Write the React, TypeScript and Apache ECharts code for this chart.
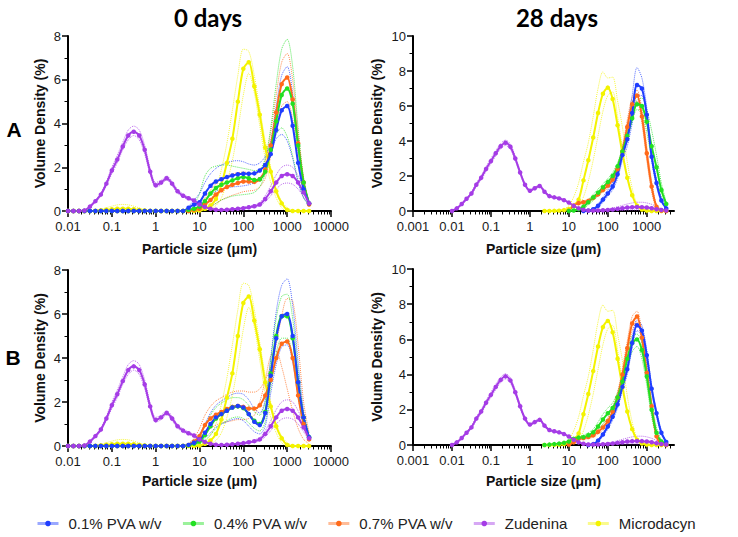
import React, { useEffect, useRef } from "react";
import * as echarts from "echarts";

// Particle size classes (µm) shared by all curves
const SIZES = [
  0.01, 0.0133, 0.0178, 0.0237, 0.0316, 0.0422, 0.0562, 0.075, 0.1, 0.133, 0.178, 0.237, 0.316, 0.422, 0.562, 0.75,
  1, 1.33, 1.78, 2.37, 3.16, 4.22, 5.62, 7.5, 10, 13.3, 17.8, 23.7, 31.6, 42.2, 56.2, 75,
  100, 133, 178, 237, 316, 422, 562, 750, 1000, 1334, 1778, 2371, 3162,
];

const TICKS_0 = [0.01, 0.1, 1, 10, 100, 1000, 10000];
const TICKS_28 = [0.001, 0.01, 0.1, 1, 10, 100, 1000];
const LEGEND_NAMES = ["0.1% PVA w/v", "0.4% PVA w/v", "0.7% PVA w/v", "Zudenina", "Microdacyn"];
const PANEL_TITLES = ["0 days", "28 days"];
const ROW_LABELS = ["A", "B"];

// ---------- 0 days, controls (same in A and B) ----------
const ZUD_0 = [0, 0, 0, 0.02, 0.2, 0.45, 0.75, 1.25, 1.85, 2.35, 2.95, 3.45, 3.62, 3.45, 2.8, 1.8, 1.18, 1.3, 1.5, 1.25, 0.9, 0.7, 0.58, 0.48, 0.3, 0.18, 0.1, 0.06, 0.05, 0.06, 0.08, 0.1, 0.13, 0.17, 0.22, 0.3, 0.55, 0.9, 1.3, 1.6, 1.68, 1.6, 1.3, 0.85, 0.35];
const ZUD_0_HI = [0, 0, 0, 0.03, 0.25, 0.5, 0.82, 1.35, 2.0, 2.55, 3.15, 3.7, 3.88, 3.7, 3.0, 1.95, 1.3, 1.4, 1.6, 1.35, 0.98, 0.78, 0.64, 0.52, 0.34, 0.2, 0.12, 0.08, 0.07, 0.08, 0.1, 0.13, 0.17, 0.22, 0.28, 0.38, 0.7, 1.15, 1.65, 2.0, 2.1, 2.0, 1.6, 1.05, 0.45];
const ZUD_0_LO = [0, 0, 0, 0.01, 0.15, 0.4, 0.68, 1.15, 1.7, 2.2, 2.8, 3.25, 3.45, 3.25, 2.6, 1.68, 1.08, 1.2, 1.42, 1.15, 0.82, 0.63, 0.52, 0.43, 0.26, 0.15, 0.08, 0.04, 0.03, 0.04, 0.06, 0.08, 0.1, 0.13, 0.17, 0.23, 0.42, 0.7, 1.0, 1.22, 1.28, 1.22, 1.0, 0.65, 0.25];
const MIC_0 = [0, 0, 0, 0, 0, 0, 0.03, 0.06, 0.08, 0.1, 0.1, 0.1, 0.08, 0.05, 0.02, 0, 0, 0, 0, 0, 0, 0, 0, 0, 0.02, 0.1, 0.25, 0.55, 1.2, 2.2, 3.3, 5.0, 6.5, 6.8, 5.7, 4.4, 2.9, 1.8, 0.9, 0.35, 0.05, 0, 0, 0, 0];
const MIC_0_HI = [0, 0, 0, 0, 0, 0.03, 0.08, 0.15, 0.22, 0.28, 0.3, 0.28, 0.22, 0.14, 0.06, 0.02, 0, 0, 0, 0, 0, 0, 0, 0, 0.05, 0.2, 0.5, 1.0, 1.9, 3.1, 4.6, 6.2, 7.4, 7.3, 6.2, 4.7, 3.2, 2.0, 1.0, 0.45, 0.15, 0.03, 0, 0, 0];
const MIC_0_LO = [0, 0, 0, 0, 0, 0, 0.01, 0.02, 0.03, 0.04, 0.04, 0.04, 0.03, 0.02, 0.01, 0, 0, 0, 0, 0, 0, 0, 0, 0, 0, 0.03, 0.1, 0.25, 0.6, 1.3, 2.3, 3.7, 5.3, 6.3, 5.4, 3.9, 2.4, 1.3, 0.6, 0.15, 0, 0, 0, 0, 0];

// ---------- A, 0 days ----------
const PVA01_A0 = [0, 0, 0, 0, 0, 0, 0, 0, 0, 0, 0, 0, 0, 0, 0, 0, 0, 0, 0, 0, 0, 0, 0.15, 0.3, 0.4, 0.8, 1.15, 1.35, 1.45, 1.55, 1.62, 1.68, 1.7, 1.7, 1.72, 1.85, 2.1, 2.6, 3.7, 4.6, 4.8, 3.9, 2.2, 1.0, 0.35];
const PVA01_A0_HI = [0.2, 0.5, 0.8, 1.3, 1.7, 1.95, 2.1, 2.2, 2.28, 2.3, 2.25, 2.15, 2.1, 2.2, 2.5, 3.2, 4.8, 6.2, 6.6, 5.4, 3.1, 1.3, 0.4];
const PVA01_A0_LO = [0.1, 0.2, 0.3, 0.5, 0.75, 0.9, 1.0, 1.05, 1.1, 1.12, 1.15, 1.2, 1.3, 1.5, 1.9, 2.6, 3.3, 3.5, 3.2, 2.4, 1.3, 0.6, 0.3];
const PVA04_A0 = [0, 0, 0, 0, 0, 0, 0, 0, 0, 0, 0, 0, 0, 0, 0, 0, 0, 0, 0, 0, 0, 0, 0.05, 0.1, 0.2, 0.45, 0.8, 1.05, 1.2, 1.3, 1.4, 1.5, 1.55, 1.5, 1.42, 1.45, 1.8, 2.8, 4.1, 5.3, 5.6, 4.9, 3.0, 1.3, 0.35];
const PVA04_A0_HI = [0.1, 0.3, 0.8, 1.6, 1.95, 2.05, 2.1, 2.1, 2.05, 2.0, 1.95, 1.9, 1.85, 1.9, 2.4, 3.8, 5.8, 7.4, 7.85, 6.6, 3.8, 1.5, 0.4];
const PVA04_A0_LO = [0, 0.02, 0.05, 0.1, 0.2, 0.35, 0.5, 0.6, 0.68, 0.72, 0.75, 0.78, 0.85, 1.1, 1.7, 2.7, 3.5, 3.8, 3.4, 2.5, 1.4, 0.6, 0.25];
const PVA07_A0 = [0, 0, 0, 0, 0, 0, 0, 0, 0, 0, 0, 0, 0, 0, 0, 0, 0, 0, 0, 0, 0, 0, 0, 0.05, 0.1, 0.3, 0.5, 0.75, 0.95, 1.1, 1.2, 1.28, 1.35, 1.35, 1.33, 1.45, 1.9, 3.0, 4.5, 5.8, 6.1, 5.1, 3.1, 1.3, 0.3];
const PVA07_A0_HI = [0.1, 0.25, 0.6, 0.95, 1.25, 1.45, 1.6, 1.7, 1.75, 1.78, 1.75, 1.7, 1.8, 2.3, 3.6, 5.3, 6.8, 7.2, 6.0, 3.6, 1.5, 0.35];
const PVA07_A0_LO = [0.02, 0.05, 0.1, 0.2, 0.35, 0.5, 0.62, 0.72, 0.8, 0.88, 0.92, 0.95, 1.1, 1.5, 2.5, 3.8, 4.8, 5.0, 4.2, 2.6, 1.1, 0.25];

// ---------- B, 0 days ----------
const PVA01_B0 = [0, 0, 0, 0, 0, 0, 0, 0, 0, 0, 0, 0, 0, 0, 0, 0, 0, 0, 0, 0, 0, 0, 0.05, 0.15, 0.3, 0.6, 1.0, 1.3, 1.45, 1.6, 1.75, 1.82, 1.75, 1.45, 1.1, 0.95, 1.5, 3.2, 4.9, 5.9, 6.0, 5.0, 2.9, 1.3, 0.4];
const PVA01_B0_HI = [0.1, 0.3, 0.55, 1.0, 1.5, 1.85, 2.05, 2.2, 2.35, 2.4, 2.35, 2.1, 1.7, 1.5, 2.1, 4.0, 6.1, 7.3, 7.6, 6.4, 3.8, 1.6, 0.45];
const PVA01_B0_LO = [0.02, 0.08, 0.15, 0.35, 0.6, 0.85, 1.0, 1.1, 1.2, 1.25, 1.15, 0.9, 0.65, 0.55, 0.9, 2.4, 3.7, 4.5, 4.6, 3.8, 2.2, 1.0, 0.3];
const PVA04_B0 = [0, 0, 0, 0, 0, 0, 0, 0, 0, 0, 0, 0, 0, 0, 0, 0, 0, 0, 0, 0, 0, 0, 0.03, 0.1, 0.2, 0.5, 0.9, 1.25, 1.45, 1.6, 1.75, 1.8, 1.72, 1.45, 1.15, 1.0, 1.55, 3.3, 5.0, 5.9, 5.9, 4.9, 2.9, 1.3, 0.4];
const PVA04_B0_HI = [0.05, 0.2, 0.4, 0.9, 1.4, 1.75, 1.95, 2.1, 2.2, 2.2, 2.1, 1.85, 1.55, 1.4, 2.0, 3.9, 5.8, 6.8, 6.9, 5.8, 3.4, 1.5, 0.45];
const PVA04_B0_LO = [0.01, 0.05, 0.1, 0.25, 0.5, 0.8, 1.0, 1.15, 1.28, 1.32, 1.25, 1.05, 0.8, 0.68, 1.1, 2.7, 4.2, 4.9, 4.9, 4.0, 2.4, 1.1, 0.35];
const PVA07_B0 = [0, 0, 0, 0, 0, 0, 0, 0, 0, 0, 0, 0, 0, 0, 0, 0, 0, 0, 0, 0, 0, 0, 0.05, 0.2, 0.45, 0.95, 1.25, 1.42, 1.55, 1.68, 1.78, 1.82, 1.78, 1.7, 1.7, 1.85, 2.3, 3.0, 4.0, 4.65, 4.75, 4.0, 2.3, 1.0, 0.3];
const PVA07_B0_HI = [0.1, 0.35, 0.8, 1.4, 1.8, 2.05, 2.2, 2.35, 2.45, 2.5, 2.5, 2.45, 2.45, 2.6, 3.0, 3.6, 4.6, 5.9, 6.7, 6.6, 4.6, 2.0, 0.6];
const PVA07_B0_LO = [0.02, 0.1, 0.25, 0.55, 0.8, 0.95, 1.05, 1.1, 1.15, 1.2, 1.2, 1.25, 1.4, 2.0, 3.0, 4.1, 4.3, 3.6, 2.6, 1.6, 0.8, 0.3, 0.1];

// ---------- 28 days, controls (same in A and B) ----------
const ZUD_28 = [0, 0.15, 0.4, 0.7, 1.0, 1.5, 1.9, 2.4, 2.85, 3.3, 3.7, 3.9, 3.67, 3.0, 2.2, 1.5, 1.16, 1.3, 1.43, 1.1, 0.85, 0.78, 0.72, 0.62, 0.48, 0.3, 0.15, 0.07, 0.03, 0.02, 0.03, 0.04, 0.06, 0.08, 0.12, 0.16, 0.2, 0.22, 0.23, 0.22, 0.2, 0.16, 0.1, 0.06, 0.03];
const ZUD_28_HI = [0, 0.17, 0.44, 0.76, 1.08, 1.6, 2.02, 2.53, 3.0, 3.45, 3.85, 4.05, 3.82, 3.12, 2.3, 1.58, 1.22, 1.36, 1.5, 1.16, 0.9, 0.83, 0.77, 0.66, 0.52, 0.33, 0.17, 0.09, 0.05, 0.04, 0.06, 0.08, 0.12, 0.17, 0.24, 0.32, 0.4, 0.46, 0.5, 0.5, 0.46, 0.38, 0.26, 0.14, 0.06];
const ZUD_28_LO = [0, 0.13, 0.36, 0.64, 0.92, 1.4, 1.78, 2.27, 2.7, 3.15, 3.55, 3.75, 3.52, 2.88, 2.1, 1.42, 1.1, 1.24, 1.36, 1.04, 0.8, 0.73, 0.67, 0.58, 0.44, 0.27, 0.13, 0.05, 0.02, 0.01, 0.01, 0.01, 0.02, 0.02, 0.03, 0.04, 0.05, 0.06, 0.06, 0.06, 0.05, 0.04, 0.03, 0.02, 0.01];
const MIC_28 = [0, 0, 0.01, 0.02, 0.05, 0.12, 0.3, 0.65, 1.75, 2.9, 4.2, 5.6, 6.7, 7.05, 6.4, 4.9, 3.3, 1.9, 0.9, 0.3, 0.08, 0.02, 0, 0, 0, 0];
const MIC_28_HI = [0, 0, 0.02, 0.05, 0.12, 0.3, 0.8, 1.6, 2.8, 3.9, 5.4, 7.0, 7.95, 7.6, 7.65, 6.3, 4.8, 2.8, 1.3, 0.4, 0.1, 0.03, 0, 0, 0, 0];
const MIC_28_LO = [0, 0, 0, 0.01, 0.02, 0.05, 0.12, 0.3, 0.8, 1.7, 2.9, 4.3, 5.7, 6.6, 6.8, 5.4, 3.6, 2.0, 0.9, 0.3, 0.08, 0.02, 0, 0, 0, 0];

// ---------- A, 28 days ----------
const PVA01_A28 = [0, 0.02, 0.1, 0.3, 0.65, 1.0, 1.4, 2.1, 3.2, 4.1, 5.6, 7.2, 7.0, 5.5, 3.1, 1.6, 0.6, 0.15];
const PVA01_A28_HI = [0, 0.03, 0.15, 0.4, 0.8, 1.2, 1.65, 2.4, 3.6, 4.8, 6.6, 8.2, 7.6, 5.9, 3.4, 1.8, 0.7, 0.2];
const PVA01_A28_LO = [0, 0.01, 0.06, 0.2, 0.5, 0.85, 1.2, 1.85, 2.9, 3.7, 5.0, 6.6, 6.6, 5.2, 2.9, 1.4, 0.5, 0.1];
const PVA04_A28 = [0, 0.03, 0.1, 0.25, 0.5, 0.78, 1.05, 1.35, 1.65, 2.0, 2.55, 3.4, 4.3, 5.3, 6.1, 6.0, 5.1, 3.7, 2.5, 1.2, 0.4];
const PVA04_A28_HI = [0, 0.05, 0.15, 0.35, 0.65, 0.95, 1.25, 1.55, 1.85, 2.2, 2.75, 3.6, 4.5, 5.5, 6.35, 6.45, 5.8, 4.6, 3.2, 1.6, 0.5];
const PVA04_A28_LO = [0, 0.02, 0.06, 0.15, 0.35, 0.6, 0.85, 1.15, 1.45, 1.8, 2.35, 3.2, 4.1, 5.1, 5.8, 5.6, 4.5, 3.0, 1.8, 0.8, 0.3];
const PVA07_A28 = [0.02, 0.3, 0.45, 0.5, 0.58, 0.75, 0.95, 1.2, 1.45, 1.8, 2.4, 3.4, 4.8, 6.1, 6.6, 5.4, 3.3, 1.4, 0.25, 0.02, 0];
const PVA07_A28_HI = [0.03, 0.35, 0.52, 0.58, 0.66, 0.85, 1.05, 1.32, 1.6, 1.95, 2.6, 3.7, 5.2, 6.5, 6.9, 5.8, 3.7, 1.7, 0.35, 0.04, 0];
const PVA07_A28_LO = [0.01, 0.25, 0.38, 0.42, 0.5, 0.65, 0.85, 1.08, 1.3, 1.65, 2.2, 3.1, 4.4, 5.7, 6.3, 5.0, 2.9, 1.1, 0.15, 0.01, 0];

// ---------- B, 28 days ----------
const PVA01_B28 = [0, 0.05, 0.25, 0.6, 1.05, 1.6, 2.3, 3.3, 4.3, 5.8, 6.8, 6.5, 5.1, 3.2, 1.8, 0.7, 0.17];
const PVA01_B28_HI = [0, 0.07, 0.3, 0.7, 1.2, 1.8, 2.5, 3.5, 4.6, 6.1, 7.1, 6.8, 5.4, 3.4, 1.95, 0.8, 0.2];
const PVA01_B28_LO = [0, 0.03, 0.2, 0.5, 0.9, 1.4, 2.1, 3.1, 4.0, 5.5, 6.5, 6.2, 4.8, 3.0, 1.65, 0.6, 0.14];
const PVA04_B28 = [0, 0.02, 0.05, 0.08, 0.12, 0.2, 0.35, 0.42, 0.45, 0.55, 0.72, 1.05, 1.45, 1.8, 2.1, 2.7, 3.6, 4.9, 5.8, 6.0, 5.4, 3.9, 2.0, 0.7, 0.2, 0.05];
const PVA04_B28_HI = [0, 0.03, 0.07, 0.1, 0.15, 0.25, 0.42, 0.5, 0.55, 0.7, 0.9, 1.3, 1.75, 2.1, 2.4, 3.0, 4.0, 5.3, 6.2, 6.3, 5.8, 4.4, 2.5, 1.0, 0.3, 0.08];
const PVA04_B28_LO = [0, 0.01, 0.03, 0.06, 0.09, 0.15, 0.28, 0.35, 0.38, 0.45, 0.58, 0.85, 1.2, 1.5, 1.8, 2.4, 3.2, 4.4, 5.3, 5.6, 4.9, 3.4, 1.6, 0.5, 0.12, 0.03];
const PVA07_B28 = [0.02, 0.15, 0.35, 0.4, 0.45, 0.55, 0.75, 1.0, 1.35, 1.9, 2.7, 4.0, 5.5, 6.9, 7.3, 6.1, 4.1, 2.2, 0.5, 0.05, 0];
const PVA07_B28_HI = [0.03, 0.2, 0.42, 0.48, 0.53, 0.65, 0.88, 1.15, 1.55, 2.15, 3.0, 4.35, 5.9, 7.3, 7.6, 6.4, 4.4, 2.4, 0.6, 0.06, 0];
const PVA07_B28_LO = [0.01, 0.1, 0.28, 0.32, 0.37, 0.45, 0.62, 0.85, 1.15, 1.65, 2.4, 3.65, 5.1, 6.5, 7.0, 5.8, 3.8, 2.0, 0.4, 0.04, 0];

const BLUE = "#1f3dff";
const GREEN = "#22e022";
const ORANGE = "#ff6a1a";
const PURPLE = "#a53ce6";
const YELLOW = "#f3f300";
const FONT = "Liberation Sans, Arial, sans-serif";

type Curve = { name: string; color: string; start: number; mean: number[]; dStart: number; hi: number[]; lo: number[] };

function curves0(p01: number[][], p04: number[][], p07: number[][], s01: number, s04: number, s07: number): Curve[] {
  return [
    { name: "Microdacyn", color: YELLOW, start: 0, mean: MIC_0, dStart: 0, hi: MIC_0_HI, lo: MIC_0_LO },
    { name: "0.7% PVA w/v", color: ORANGE, start: 0, mean: p07[0], dStart: s07, hi: p07[1], lo: p07[2] },
    { name: "0.4% PVA w/v", color: GREEN, start: 0, mean: p04[0], dStart: s04, hi: p04[1], lo: p04[2] },
    { name: "0.1% PVA w/v", color: BLUE, start: 0, mean: p01[0], dStart: s01, hi: p01[1], lo: p01[2] },
    { name: "Zudenina", color: PURPLE, start: 0, mean: ZUD_0, dStart: 0, hi: ZUD_0_HI, lo: ZUD_0_LO },
  ];
}
function curves28(p01: number[][], p04: number[][], p07: number[][], s01: number, s04: number, s07: number): Curve[] {
  return [
    { name: "Microdacyn", color: YELLOW, start: 19, mean: MIC_28, dStart: 19, hi: MIC_28_HI, lo: MIC_28_LO },
    { name: "0.7% PVA w/v", color: ORANGE, start: s07, mean: p07[0], dStart: s07, hi: p07[1], lo: p07[2] },
    { name: "0.4% PVA w/v", color: GREEN, start: s04, mean: p04[0], dStart: s04, hi: p04[1], lo: p04[2] },
    { name: "0.1% PVA w/v", color: BLUE, start: s01, mean: p01[0], dStart: s01, hi: p01[1], lo: p01[2] },
    { name: "Zudenina", color: PURPLE, start: 0, mean: ZUD_28, dStart: 0, hi: ZUD_28_HI, lo: ZUD_28_LO },
  ];
}

const PANELS = [
  {
    grid: { left: 68, top: 36, width: 263, height: 175 }, xMin: 0.01, xMax: 10000, ticks: TICKS_0, yMax: 8, yGap: 21, xGap: 31,
    curves: curves0([PVA01_A0, PVA01_A0_HI, PVA01_A0_LO], [PVA04_A0, PVA04_A0_HI, PVA04_A0_LO], [PVA07_A0, PVA07_A0_HI, PVA07_A0_LO], 22, 22, 23),
  },
  {
    grid: { left: 413, top: 36, width: 261, height: 175 }, xMin: 0.001, xMax: 5000, ticks: TICKS_28, yMax: 10, yGap: 29, xGap: 31,
    curves: curves28([PVA01_A28, PVA01_A28_HI, PVA01_A28_LO], [PVA04_A28, PVA04_A28_HI, PVA04_A28_LO], [PVA07_A28, PVA07_A28_HI, PVA07_A28_LO], 27, 24, 24),
  },
  {
    grid: { left: 68, top: 270, width: 263, height: 176 }, xMin: 0.01, xMax: 10000, ticks: TICKS_0, yMax: 8, yGap: 21, xGap: 28,
    curves: curves0([PVA01_B0, PVA01_B0_HI, PVA01_B0_LO], [PVA04_B0, PVA04_B0_HI, PVA04_B0_LO], [PVA07_B0, PVA07_B0_HI, PVA07_B0_LO], 22, 22, 22),
  },
  {
    grid: { left: 413, top: 269, width: 261, height: 176 }, xMin: 0.001, xMax: 5000, ticks: TICKS_28, yMax: 10, yGap: 29, xGap: 29,
    curves: curves28([PVA01_B28, PVA01_B28_HI, PVA01_B28_LO], [PVA04_B28, PVA04_B28_HI, PVA04_B28_LO], [PVA07_B28, PVA07_B28_HI, PVA07_B28_LO], 28, 19, 24),
  },
];

function pts(values: number[], start: number) {
  return values.map((v, i) => [SIZES[start + i], v]);
}

function minorTicks(min: number, max: number) {
  const out: number[] = [];
  const e0 = Math.round(Math.log10(min));
  for (let e = e0; Math.pow(10, e) < max; e++) {
    for (let m = 2; m <= 9; m++) {
      const v = +(m * Math.pow(10, e)).toPrecision(3);
      if (v < max) out.push(v);
    }
  }
  return out;
}

const fmt = (v: number) => String(+Number(v).toPrecision(6));

function buildOption() {
  const grid: any[] = [];
  const xAxis: any[] = [];
  const yAxis: any[] = [];
  const series: any[] = [];
  PANELS.forEach((p, g) => {
    grid.push({ ...p.grid, containLabel: false });
    xAxis.push({
      type: "log", logBase: 10, gridIndex: g, min: p.xMin, max: p.xMax, position: "bottom",
      axisLine: { show: true, onZero: false, lineStyle: { color: "#000", width: 2 } },
      axisTick: { show: true, inside: false, length: 6, customValues: p.ticks, lineStyle: { color: "#000", width: 1.5 } },
      axisLabel: { customValues: p.ticks, formatter: fmt, fontSize: 13, color: "#1a1a1a", margin: 9, fontFamily: FONT },
      splitLine: { show: false },
      name: "Particle size (μm)", nameLocation: "middle", nameGap: p.xGap,
      nameTextStyle: { fontSize: 14, fontWeight: "bold", color: "#111", fontFamily: FONT },
    });
    xAxis.push({
      type: "log", logBase: 10, gridIndex: g, min: p.xMin, max: p.xMax, position: "bottom",
      axisLine: { show: false, onZero: false },
      axisTick: { show: true, inside: false, length: 3.5, customValues: minorTicks(p.xMin, p.xMax), lineStyle: { color: "#000", width: 1 } },
      axisLabel: { show: false },
      splitLine: { show: false },
    });
    yAxis.push({
      type: "value", gridIndex: g, min: 0, max: p.yMax, interval: 2,
      axisLine: { show: true, onZero: false, lineStyle: { color: "#000", width: 2 } },
      axisTick: { show: true, length: 6, lineStyle: { color: "#000", width: 1.5 } },
      minorTick: { show: true, splitNumber: 2, length: 3.5, lineStyle: { color: "#000", width: 1 } },
      splitLine: { show: false },
      axisLabel: { fontSize: 13, color: "#1a1a1a", margin: 7, fontFamily: FONT },
      name: "Volume Density (%)", nameLocation: "middle", nameGap: p.yGap,
      nameTextStyle: { fontSize: 14, fontWeight: "bold", color: "#111", fontFamily: FONT },
    });
    p.curves.forEach((c) => {
      [c.hi, c.lo].forEach((arr, k) => {
        series.push({
          type: "line", name: c.name + (k === 0 ? " upper" : " lower"), xAxisIndex: 2 * g, yAxisIndex: g,
          data: pts(arr, c.dStart), symbol: "none", smooth: 0.3, silent: true, z: 1,
          lineStyle: { color: c.color, width: 1, type: "dotted", opacity: 0.75 },
          itemStyle: { color: c.color },
        });
      });
    });
    p.curves.forEach((c) => {
      series.push({
        type: "line", name: c.name, xAxisIndex: 2 * g, yAxisIndex: g,
        data: pts(c.mean, c.start), symbol: "circle", symbolSize: 4.5, showSymbol: true, smooth: 0.3, z: 3,
        lineStyle: { color: c.color, width: 2 },
        itemStyle: { color: c.color },
      });
    });
  });

  const graphic: any[] = [
    { type: "text", x: 208, y: 17, style: { text: PANEL_TITLES[0], font: "bold 24px Lato", fill: "#000", textAlign: "center", textVerticalAlign: "middle" } },
    { type: "text", x: 557, y: 17, style: { text: PANEL_TITLES[1], font: "bold 24px Lato", fill: "#000", textAlign: "center", textVerticalAlign: "middle" } },
    { type: "text", x: 14, y: 129, style: { text: ROW_LABELS[0], font: "bold 21px Liberation Sans", fill: "#000", textAlign: "center", textVerticalAlign: "middle" } },
    { type: "text", x: 13, y: 357, style: { text: ROW_LABELS[1], font: "bold 21px Liberation Sans", fill: "#000", textAlign: "center", textVerticalAlign: "middle" } },
  ];

  return {
    animation: false,
    backgroundColor: "#fff",
    textStyle: { fontFamily: FONT },
    grid, xAxis, yAxis, series, graphic,
    legend: {
      data: LEGEND_NAMES, left: 31, top: 511, itemWidth: 21, itemHeight: 7, itemGap: 19,
      textStyle: { fontSize: 15, fontFamily: FONT, color: "#222", padding: [0, 0, 0, 5] },
      lineStyle: { width: 3, opacity: 0.45 },
      itemStyle: { opacity: 1 },
    },
  };
}

export default function App() {
  const ref = useRef<HTMLDivElement>(null);
  useEffect(() => {
    if (!ref.current) return;
    const chart = echarts.init(ref.current, undefined, { renderer: "svg" });
    chart.setOption(buildOption() as any);
    return () => chart.dispose();
  }, []);
  return <div ref={ref} style={{ position: "fixed", left: 0, top: 0, width: 738, height: 537, background: "#fff" }} />;
}
